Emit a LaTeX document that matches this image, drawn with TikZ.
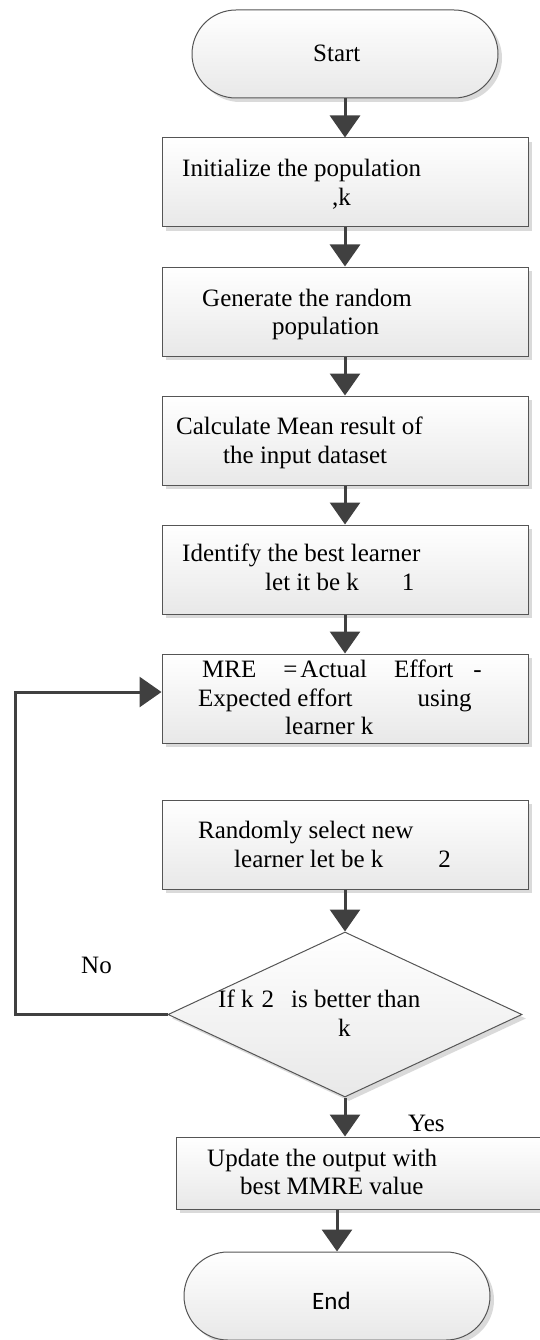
\documentclass[tikz,border=0pt]{standalone}
\usepackage{fontspec}
\setmainfont{Liberation Serif}
\newfontfamily\calfont{Carlito}
\usetikzlibrary{arrows.meta,shapes.geometric,shadows}
\definecolor{edgec}{HTML}{555555}
\definecolor{conc}{HTML}{404040}
\definecolor{shadc}{HTML}{DADADA}
\begin{document}
\begin{tikzpicture}[x=1pt,y=-1pt,
  shadebox/.style={draw=edgec, line width=1pt, top color=white, bottom color=black!9,
    general shadow={fill=shadc, shadow xshift=4pt, shadow yshift=-4pt}},
  box/.style={shadebox, rectangle, inner sep=0pt, minimum width=366pt, minimum height=89pt},
  term/.style={shadebox, rectangle, rounded corners=44pt, inner sep=0pt, minimum width=306pt, minimum height=88pt},
  decision/.style={shadebox, diamond, inner sep=0pt, minimum width=354pt, minimum height=165pt},
  txt/.style={anchor=base west, inner sep=0pt, font=\fontsize{25}{29}\selectfont},
  conn/.style={draw=conc, line width=3pt, -{Triangle[width=30pt,length=22pt]}, line join=miter}
]
\useasboundingbox (0,0) rectangle (540,1340);
\clip (0,0) rectangle (540,1340);

% shapes
\node[term] (start) at (345,54) {};
\node[box] (b1) at (345,182.5) {};
\node[box] (b2) at (345,311.5) {};
\node[box] (b3) at (345,440.5) {};
\node[box] (b4) at (345,569.5) {};
\node[box] (b5) at (345,698.5) {};
\node[box] (b6) at (345,844.5) {};
\node[decision] (dia) at (345,1014.5) {};
\node[box, minimum width=384pt, minimum height=72pt] (b7) at (368,1173) {};
\node[term] (end) at (337,1296) {};

% texts
\node[txt] (tstart) at (313,62) {Start};
\node[txt] (t1a) at (182,177) {Initialize the population};
\node[txt] (t1b) at (332,205.5) {,k};
\node[txt] (t2a) at (202,306) {Generate the random};
\node[txt] (t2b) at (272,334.5) {population};
\node[txt] (t3a) at (176,434) {Calculate Mean result of};
\node[txt] (t3b) at (223,463) {the input dataset};
\node[txt] (t4a) at (182,561) {Identify the best learner};
\node[txt] (t4b) at (265,590) {let it be k\hspace{43pt}1};
\node[txt] (t5a) at (202,677) {MRE\hspace{27pt}=\hspace{3pt}Actual\hspace{27pt}Effort\hspace{20pt}-};
\node[txt] (t5b) at (198,706) {Expected effort\hspace{65pt}using};
\node[txt] (t5c) at (285,734) {learner k};
\node[txt] (t6a) at (198,838) {Randomly select new};
\node[txt] (t6b) at (234,867) {learner let be k\hspace{55pt}2};
\node[txt] (tda) at (218,1007) {If k\hspace{8pt}2\hspace{17pt}is better than};
\node[txt] (tdb) at (338,1036) {k};
\node[txt] (t7a) at (207,1166) {Update the output with};
\node[txt] (t7b) at (240,1194) {best MMRE value};
\node[txt, font=\calfont\fontsize{25}{29}\selectfont] (tend) at (312,1309) {End};
\node[txt] (tno) at (81,973.5) {No};
\node[txt] (tyes) at (408,1131.5) {Yes};

% connectors
\draw[conn] (start.south) -- (b1.north);
\draw[conn] (b1.south) -- (b2.north);
\draw[conn] (b2.south) -- (b3.north);
\draw[conn] (b3.south) -- (b4.north);
\draw[conn] (b4.south) -- (b5.north);
\draw[conn] (b6.south) -- (dia.north);
\draw[conn] (dia.south) -- (dia.south |- b7.north);
\draw[conn] (end.north |- b7.south) -- (end.north);
\coordinate (lp) at (15,692);
\draw[conn] (dia.west) -| (lp) -- (b5.west |- lp);
\end{tikzpicture}
\end{document}
